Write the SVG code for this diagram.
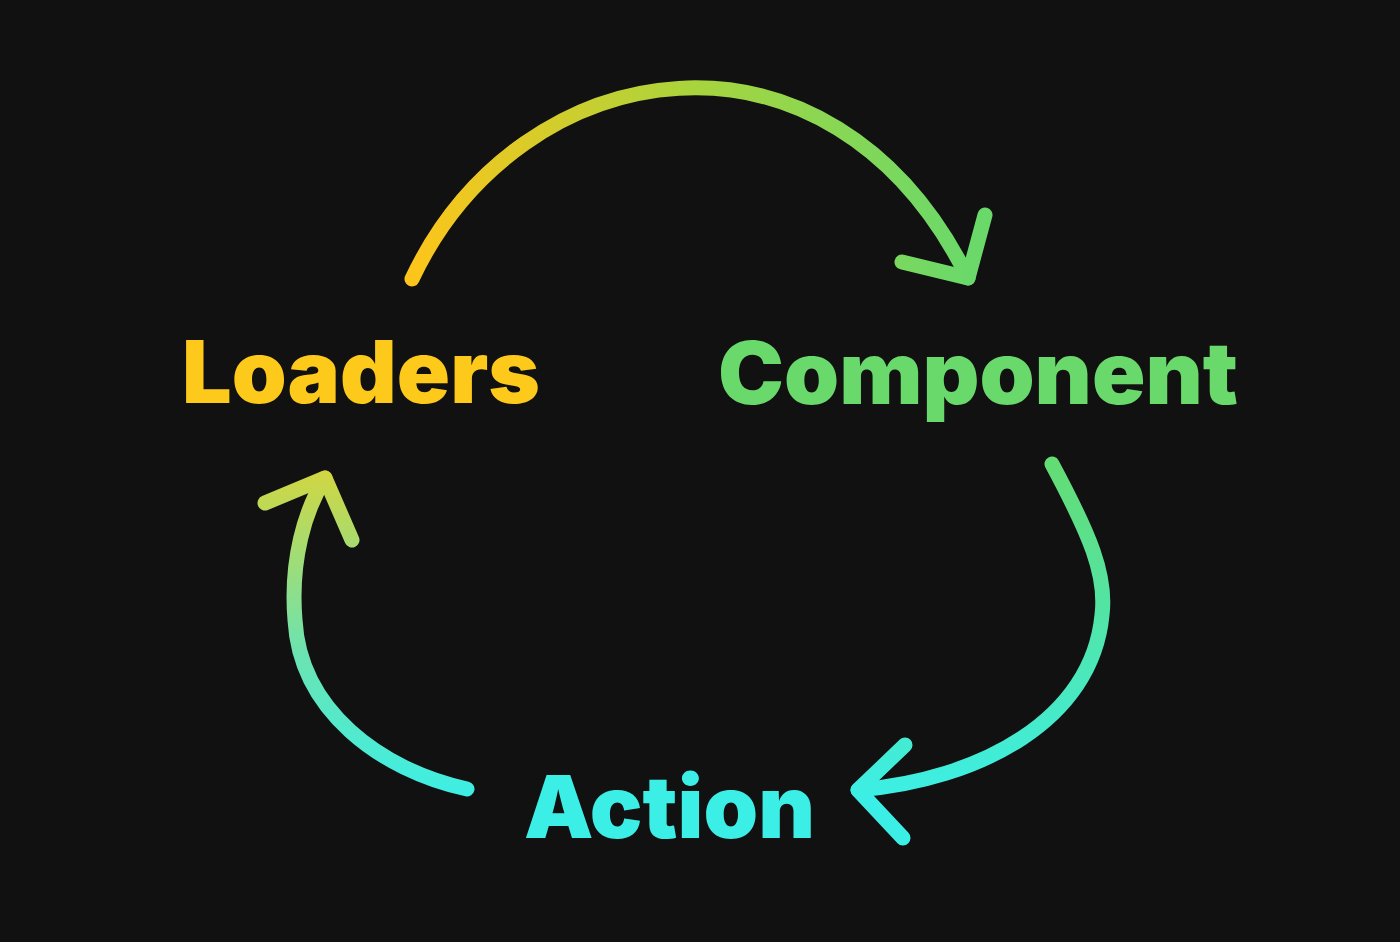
<svg xmlns="http://www.w3.org/2000/svg" width="1400" height="942" viewBox="0 0 1400 942">
<defs>
<linearGradient id="g1" gradientUnits="userSpaceOnUse" x1="412" y1="0" x2="968" y2="0">
<stop offset="0" stop-color="#fdc51b"/>
<stop offset="0.5" stop-color="#a9d43c"/>
<stop offset="1" stop-color="#6ad96a"/>
</linearGradient>
<linearGradient id="g2" gradientUnits="userSpaceOnUse" x1="0" y1="464" x2="0" y2="800">
<stop offset="0" stop-color="#64dc74"/>
<stop offset="1" stop-color="#3cefe6"/>
</linearGradient>
<linearGradient id="g3" gradientUnits="userSpaceOnUse" x1="0" y1="800" x2="0" y2="470">
<stop offset="0" stop-color="#3cefe6"/>
<stop offset="0.45" stop-color="#6ce3b0"/>
<stop offset="1" stop-color="#d2d640"/>
</linearGradient>
<style>
.lbl{font-family:Inter,"Liberation Sans",sans-serif;font-weight:900;font-size:86px}
.arr{fill:none;stroke-width:15;stroke-linecap:round;stroke-linejoin:round}
</style>
</defs>
<rect width="1400" height="942" fill="#111111"/>
<g id="connectors">
<g id="loaders-to-component" class="arr" stroke="url(#g1)">
<path d="M412,279 C520,50 830,0 968,278"/>
<polyline points="985,215 968,278 902,262"/>
</g>
<g id="component-to-action" class="arr" stroke="url(#g2)">
<path d="M1052,464 C1090,535 1107,575 1102,615 C1092,720 980,780 858,790"/>
<polyline points="905,745 858,790 903,838"/>
</g>
<g id="action-to-loaders" class="arr" stroke="url(#g3)">
<path d="M467,789 C380,770 300,710 295,620 C290,560 305,510 325,478"/>
<polyline points="265,503 325,478 352,540"/>
</g>
</g>
<g id="loaders"><text class="lbl" x="182" y="403" fill="#fdca1c" textLength="358" lengthAdjust="spacingAndGlyphs">Loaders</text></g>
<g id="component"><text class="lbl" x="718" y="404" fill="#68d96a" textLength="520" lengthAdjust="spacingAndGlyphs">Component</text></g>
<g id="action"><text class="lbl" x="524" y="838" fill="#3cefe6" textLength="291" lengthAdjust="spacingAndGlyphs">Action</text></g>
</svg>
